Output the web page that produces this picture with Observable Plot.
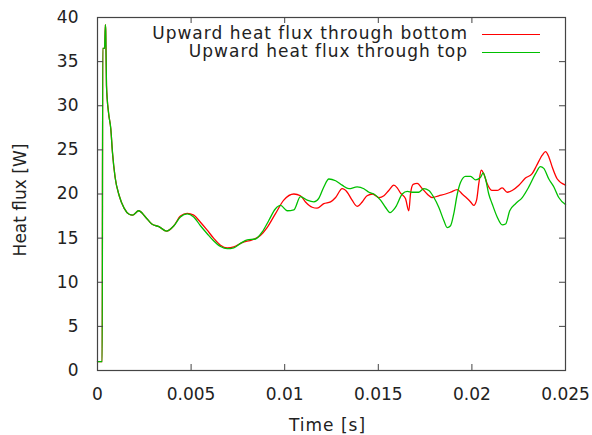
<!DOCTYPE html>
<html>
<head>
<meta charset="utf-8">
<script src="https://cdn.jsdelivr.net/npm/d3@7"></script>
<script src="https://cdn.jsdelivr.net/npm/@observablehq/plot@0.6"></script>
<style>
  html, body { margin: 0; padding: 0; background: #fff; }
  #wrap { position: relative; width: 592px; height: 435px; font-family: "DejaVu Sans", sans-serif; }
  .lg-text { position: absolute; font-size: 17px; color: #222; white-space: nowrap; line-height: 20px; letter-spacing: 1px; }
  .lg-line { position: absolute; height: 0; border-top: 1.3px solid; }
</style>
</head>
<body>
<div id="wrap"></div>
<script>
// ---- data ----
const seriesNames = ["Upward heat flux through bottom", "Upward heat flux through top"];
const seriesColors = ["#ff0000", "#00c000"];

const timeBottom = [0, 0.00025, 0.00028, 0.00038, 0.00042, 0.00044, 0.00048, 0.00059, 0.00071, 0.0008, 0.00094, 0.00116, 0.00142, 0.00169, 0.00187, 0.0022, 0.00256, 0.0029, 0.00328, 0.00369, 0.00408, 0.00443,
  0.00479, 0.00514, 0.0055, 0.00586, 0.0062, 0.00657, 0.00693, 0.00728, 0.00773, 0.00826, 0.0087, 0.00906, 0.0095, 0.00995, 0.01049, 0.01084, 0.01111, 0.01147, 0.01173, 0.01209, 0.01245, 0.01272, 0.01307, 0.01334, 0.0136, 0.01387, 0.01414, 0.0144, 0.0147, 0.01503, 0.0153, 0.01556, 0.01583, 0.01601, 0.01619, 0.01645, 0.01663, 0.01672, 0.01686, 0.01708, 0.01735, 0.01761, 0.01788, 0.01823, 0.01859, 0.01886, 0.01922, 0.01948, 0.01975, 0.01993, 0.0201, 0.02025, 0.02037, 0.0205, 0.02063, 0.02081, 0.02108, 0.02135, 0.02162, 0.02189, 0.02215, 0.02251, 0.02286, 0.02322, 0.02345, 0.02376, 0.02393, 0.02411, 0.0243, 0.02456, 0.025];
const fluxBottom = [1.0, 1.0, 36.5, 36.5, 39.2, 38.5, 32.3, 29.2, 27.4, 24.7, 21.9, 19.8, 18.4, 17.7, 17.6, 18.1, 17.4, 16.6, 16.3, 15.8, 16.4, 17.5,
  17.8, 17.6, 16.8, 15.9, 15.0, 14.2, 13.9, 14.0, 14.5, 14.8, 15.3, 16.2, 17.75, 19.3, 20.0, 19.8, 19.1, 18.5, 18.4, 18.9, 19.1, 19.6, 20.6, 20.2, 19.3, 18.6, 19.1, 19.8, 20.0, 19.6, 19.8, 20.4, 21.0, 20.7, 20.1, 19.5, 18.1, 20.0, 21.1, 21.2, 20.6, 20.0, 19.6, 19.8, 20.0, 20.2, 20.5, 20.0, 19.5, 19.1, 18.7, 19.3, 21.2, 22.7, 22.3, 21.2, 20.4, 20.4, 20.7, 20.2, 20.4, 21.0, 21.8, 22.3, 23.2, 24.4, 24.8, 24.2, 23.0, 21.7, 21.0];

const timeTop = [0, 0.00025, 0.00028, 0.00038, 0.00042, 0.00044, 0.00048, 0.00059, 0.00071, 0.0008, 0.00094, 0.00116, 0.00142, 0.00169, 0.00187, 0.0022, 0.00256, 0.0029, 0.00328, 0.00369, 0.00408, 0.00443,
  0.00479, 0.00514, 0.0055, 0.00586, 0.0062, 0.00657, 0.00693, 0.00728, 0.00764, 0.008, 0.00844, 0.0088, 0.00915, 0.0095, 0.00978, 0.01014, 0.01049, 0.01084, 0.0112, 0.01156, 0.01182, 0.01209, 0.01236, 0.01272, 0.01307, 0.01343, 0.01387, 0.01423, 0.0145, 0.01476, 0.01512, 0.01538, 0.01562, 0.01592, 0.01628, 0.01655, 0.01681, 0.01715, 0.01743, 0.0177, 0.01797, 0.01823, 0.0185, 0.01868, 0.01886, 0.01903, 0.01922, 0.01939, 0.01966, 0.01993, 0.0202, 0.02046, 0.0206, 0.02073, 0.0209, 0.02108, 0.02135, 0.02162, 0.0218, 0.02202, 0.02233, 0.02269, 0.02304, 0.0234, 0.02366, 0.02384, 0.02411, 0.02438, 0.02464, 0.025];
const fluxTop = [1.0, 1.0, 36.5, 36.5, 39.2, 38.5, 32.3, 29.2, 27.4, 24.7, 21.9, 19.8, 18.4, 17.7, 17.6, 18.1, 17.4, 16.6, 16.3, 15.8, 16.4, 17.4,
  17.75, 17.4, 16.4, 15.5, 14.7, 14.05, 13.8, 13.9, 14.4, 14.8, 14.9, 15.7, 17.0, 18.3, 18.7, 18.1, 18.2, 19.7, 19.3, 19.1, 19.5, 20.8, 21.7, 21.5, 21.0, 20.6, 20.8, 20.6, 20.2, 20.0, 19.3, 18.5, 17.9, 18.5, 20.0, 20.3, 20.2, 20.2, 20.6, 20.4, 19.6, 18.5, 17.0, 16.2, 16.4, 17.75, 20.0, 21.3, 22.0, 22.0, 21.6, 21.9, 22.4, 21.7, 20.0, 18.9, 17.4, 16.5, 16.6, 18.1, 18.9, 19.6, 20.8, 22.3, 23.1, 22.9, 21.7, 20.8, 19.6, 18.8];

const xTicks = [0, 0.005, 0.01, 0.015, 0.02, 0.025];
const xTickLabels = ["0", "0.005", "0.01", "0.015", "0.02", "0.025"];
const yTicks = [0, 5, 10, 15, 20, 25, 30, 35, 40];
const xLabel = "Time [s]";
const yLabel = "Heat flux [W]";

// ---- build table ----
const bottomRows = timeBottom.map((t, i) => ({t, v: fluxBottom[i], s: seriesNames[0]}));
const topRows = timeTop.map((t, i) => ({t, v: fluxTop[i], s: seriesNames[1]}));

const W = 592, H = 435;
const mL = 97, mR = 27, mT = 17, mB = 65;
const innerW = W - mL - mR, innerH = H - mT - mB;
const tickLen = 6;
const axisColor = "#444";

const chart = Plot.plot({
  width: W, height: H,
  marginLeft: mL, marginRight: mR, marginTop: mT, marginBottom: mB,
  style: {fontFamily: "DejaVu Sans, sans-serif", fontSize: "17px", color: "#222", background: "#fff"},
  x: {domain: [0, 0.025]},
  y: {domain: [0, 40]},
  marks: [
    Plot.line(bottomRows, {x: "t", y: "v", stroke: seriesColors[0], strokeWidth: 1.3, curve: "monotone-x"}),
    Plot.line(topRows, {x: "t", y: "v", stroke: seriesColors[1], strokeWidth: 1.3, curve: "monotone-x"}),
    // inward ticks on all four sides
    Plot.tickX(xTicks, {x: d => d, stroke: axisColor, insetTop: innerH - tickLen}),
    Plot.tickX(xTicks, {x: d => d, stroke: axisColor, insetBottom: innerH - tickLen}),
    Plot.tickY(yTicks, {y: d => d, stroke: axisColor, insetRight: innerW - tickLen}),
    Plot.tickY(yTicks, {y: d => d, stroke: axisColor, insetLeft: innerW - tickLen}),
    Plot.axisX(xTicks, {tickSize: 0, tickPadding: 17, tickFormat: (d, i) => xTickLabels[i], label: null, fill: "#222"}),
    Plot.axisY(yTicks, {tickSize: 0, tickPadding: 19, label: null, fill: "#222"}),
    Plot.frame({stroke: axisColor, strokeWidth: 1.2}),
    Plot.text([xLabel], {frameAnchor: "bottom", dy: 55, dx: -4, lineAnchor: "middle", textAnchor: "middle", fill: "#222", fontSize: 17}),
    Plot.text([yLabel], {frameAnchor: "left", rotate: -90, dx: -77, dy: 6, textAnchor: "middle", lineAnchor: "middle", fill: "#222", fontSize: 17})
  ]
});

const wrap = document.getElementById("wrap");
wrap.appendChild(chart);
// letter spacing for the x title
chart.querySelectorAll("text").forEach(t => { if (t.textContent === xLabel) t.setAttribute("letter-spacing", "1"); });

// legend (top-right, inside the frame, gnuplot style)
const legendRows = [{y: 34}, {y: 52}];
seriesNames.forEach((name, i) => {
  const txt = document.createElement("div");
  txt.className = "lg-text";
  txt.textContent = name;
  txt.style.right = (W - 468) + "px";
  txt.style.top = (legendRows[i].y - 11) + "px";
  wrap.appendChild(txt);
  const ln = document.createElement("div");
  ln.className = "lg-line";
  ln.style.left = "482px";
  ln.style.width = "58px";
  ln.style.top = legendRows[i].y + "px";
  ln.style.borderColor = seriesColors[i];
  wrap.appendChild(ln);
});
</script>
</body>
</html>
